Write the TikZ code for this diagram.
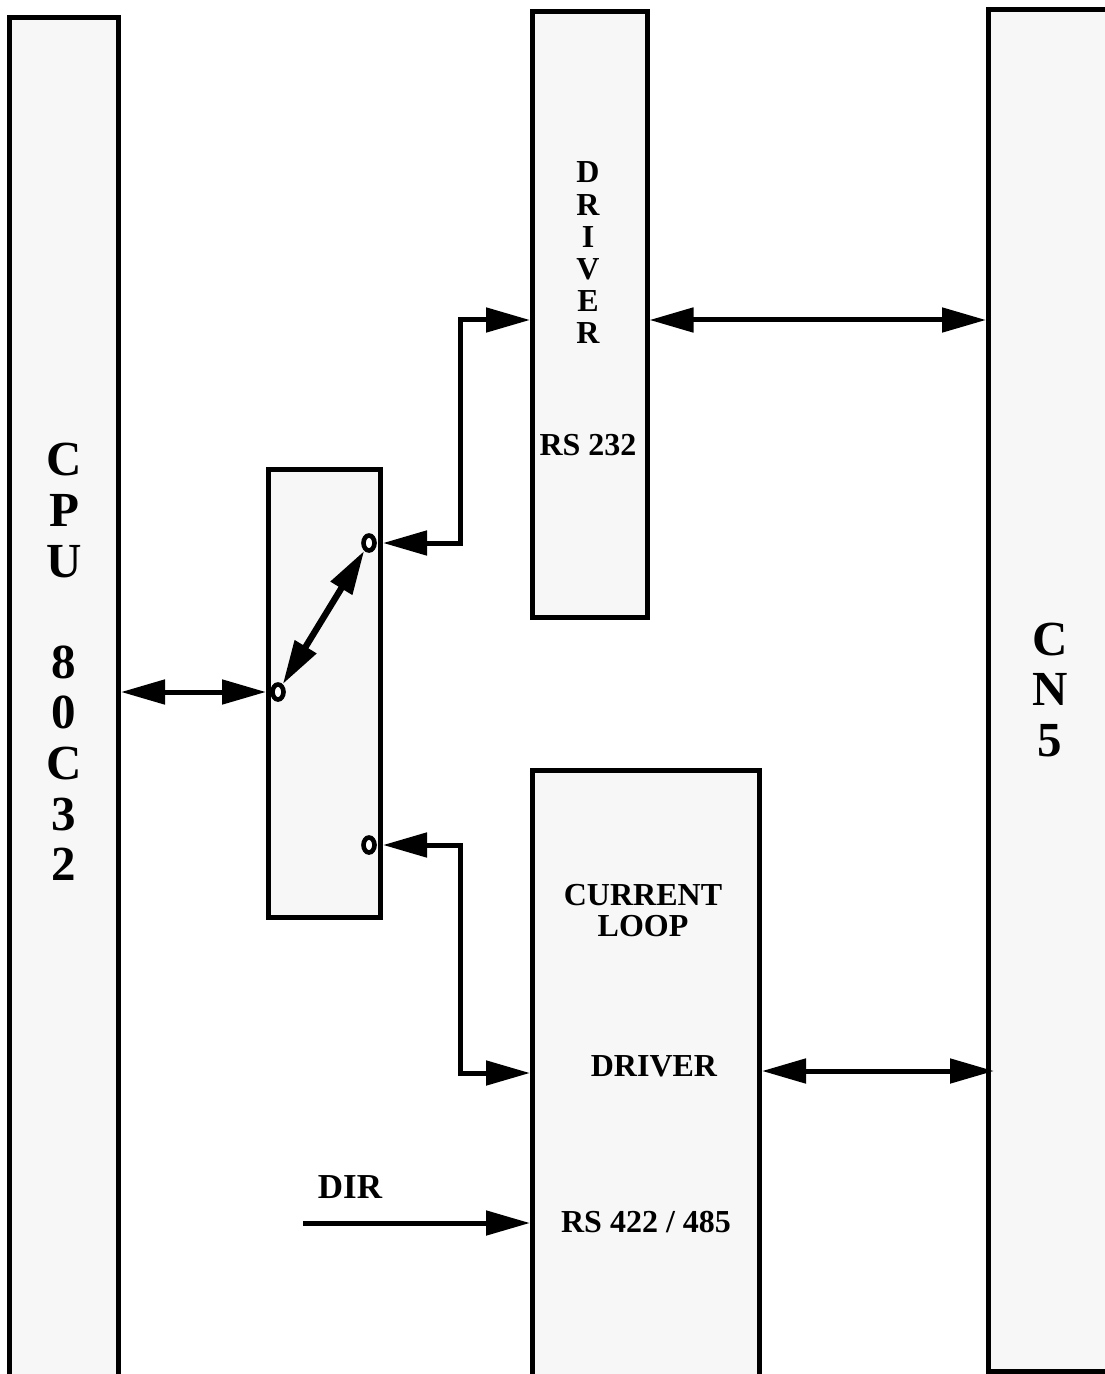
\documentclass[tikz,border=0pt]{standalone}
\usepackage{fontspec}
\setmainfont{Liberation Serif}
\usepackage{tikz}
\usepackage{xcolor}
\usetikzlibrary{shapes.geometric, arrows.meta}
\definecolor{boxfill}{HTML}{F7F7F7}
\tikzstyle{block} = [
    rectangle, draw=black, line width=2.5pt, fill=boxfill,
    inner sep=0pt
]
\tikzstyle{contact} = [
    ellipse, draw=black, line width=2.3pt, fill=white,
    minimum width=5.5pt, minimum height=7.5pt, inner sep=0pt
]
\tikzstyle{bigtext} = [font=\fontsize{24.5}{25.3}\selectfont\bfseries, align=center]
\tikzstyle{smalltext} = [font=\fontsize{16}{15.5}\selectfont\bfseries, align=center]
\tikzstyle{arrow} = [line width=2.5pt, -{Triangle[length=22pt, width=12pt]}]
\tikzstyle{biarrow} = [line width=2.5pt,
    {Triangle[length=22pt, width=12pt]}-{Triangle[length=22pt, width=12pt]}]

\begin{document}
\begin{tikzpicture}[x=0.5pt, y=-0.5pt]
            \useasboundingbox (0,0) rectangle (1104,1374);

            \node (cpu) [block, minimum width=54.5pt, minimum height=706.25pt] at (64,723.75) {};
            \node (drv232) [block, minimum width=57.25pt, minimum height=302.75pt] at (589.75,314.75) {};
            \node (sw) [block, minimum width=56pt, minimum height=224pt] at (324.5,693.5) {};
            \node (drvloop) [block, minimum width=113.5pt, minimum height=329.75pt] at (646,1100.25) {};
            \node (cn5) [block, minimum width=75.75pt, minimum height=681pt] at (1064.25,690.5) {};

            \node (cpulabel) [bigtext] at (64,662) {C\\P\\U\\[25.3pt]8\\0\\C\\3\\2};
            \node (cnlabel) [bigtext] at (1050,690) {C\\N\\5};
            \node (drvlabel) [smalltext, font=\fontsize{16}{16.1}\selectfont\bfseries] at (588,253) {D\\R\\I\\V\\E\\R};
            \node (rs232) [smalltext] at (588,445) {RS 232};
            \node (loop) [smalltext] at (643,911) {CURRENT\\LOOP};
            \node (drvtext) [smalltext] at (654,1066) {DRIVER};
            \node (rs422) [smalltext] at (646,1222) {RS 422 / 485};
            \node (dir) [smalltext, font=\fontsize{17.5}{17.5}\selectfont\bfseries] at (350,1187) {DIR};

            \node (c1) [contact] at (278,692) {};
            \node (c2) [contact] at (369,543) {};
            \node (c3) [contact] at (369,845) {};
            \coordinate (dirstart) at (303,1223);

            \draw [biarrow] (cpu.east |- c1) -- (sw.west |- c1);
            \draw [biarrow, line width=3.2pt] (c1) -- (c2);
            \draw [biarrow] (sw.east |- c2) -- ++(77.5,0) |- (drv232.west |- 0,320);
            \draw [biarrow] (sw.east |- c3) -- ++(77.5,0) |- (drvloop.west |- 0,1073);
            \draw [biarrow] (drv232.east |- 0,320) -- (cn5.west |- 0,320);
            \draw [biarrow] (drvloop.east |- 0,1071) -- ([xshift=4pt]cn5.west |- 0,1071);
            \draw [arrow] (dirstart) -- (drvloop.west |- dirstart);
        \end{tikzpicture}
\end{document}
